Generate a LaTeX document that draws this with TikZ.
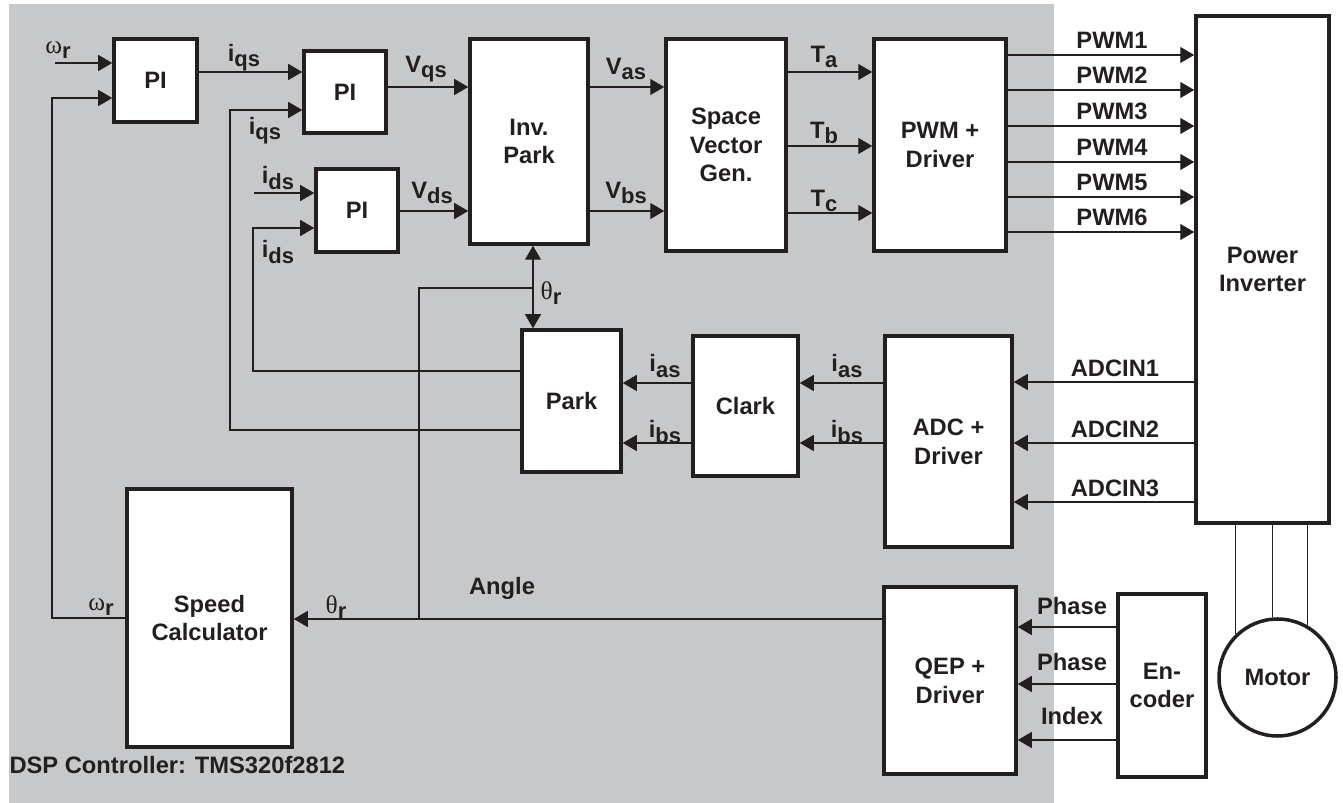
\documentclass[tikz,border=0pt]{standalone}
\usepackage{fontspec}
\setmainfont{Liberation Sans}
\newfontfamily\grk{Liberation Serif}
\usepackage{tikz}
\usetikzlibrary{arrows.meta}
\definecolor{dspbg}{RGB}{199,200,202}
\definecolor{ink}{RGB}{35,31,32}
\newcommand{\lowsub}[1]{\raisebox{-0.22em}{\fontsize{12.5}{14}\selectfont #1}}
\newcommand{\gk}[1]{{\grk\mdseries\fontsize{14.5}{16}\selectfont #1}}

\begin{document}
\begin{tikzpicture}[x=0.02cm, y=-0.02cm, ink, line width=0.6pt,
  font=\fontsize{13.5}{16.4}\selectfont\bfseries,
  >={Triangle[length=0.28cm,width=0.32cm]},
  blk/.style={draw=ink, fill=white, line width=2pt, align=center, inner sep=0pt},
  wh/.style 2 args={minimum width=#1*0.02cm, minimum height=#2*0.02cm},
  lbl/.style={inner sep=0pt}]
  \useasboundingbox (0,0) rectangle (1343,803);
  \fill[dspbg] (9,4) rectangle (1054,803);
  % blocks
  \node[blk, wh={83}{83}] (pi1) at (155.5,80.5) {PI};
  \node[blk, wh={82}{82}] (pi2) at (345,92) {PI};
  \node[blk, wh={82}{83}] (pi3) at (357,210.5) {PI};
  \node[blk, wh={118}{205}] (ipark) at (529,141.5) {Inv.\\Park};
  \node[blk, wh={120}{212}] (svgen) at (726,145) {Space\\Vector\\Gen.};
  \node[blk, wh={132}{212}] (pwm) at (940,145) {PWM +\\Driver};
  \node[blk, wh={133}{507}] (inv) at (1262.5,269.5) {Power\\Inverter};
  \node[blk, wh={99}{142}] (park) at (571.5,401) {Park};
  \node[blk, wh={105}{140}] (clark) at (745.5,406) {Clark};
  \node[blk, wh={127}{211}] (adc) at (948.5,441.5) {ADC +\\Driver};
  \node[blk, wh={165}{258}] (spd) at (209.5,618) {Speed\\Calculator};
  \node[blk, wh={132}{187}] (qep) at (950,680.5) {QEP +\\Driver};
  \node[blk, wh={88}{183}] (enc) at (1162,685.5) {En-\\coder};
  \node[blk, circle, minimum size=117*0.02cm] (motor) at (1277.5,677.5) {Motor};
  % forward path
  \coordinate (wref) at (55,63);
  \coordinate (idref) at (254,193);
  \draw[->] (wref) -- (pi1.west |- wref);
  \draw[->] (idref) -- (pi3.west |- idref);
  \draw[->] (pi1.east |- 0,72) -- (pi2.west |- 0,72);
  \draw[->] (pi2.east |- 0,87) -- (ipark.west |- 0,87);
  \draw[->] (pi3.east |- 0,211) -- (ipark.west |- 0,211);
  \foreach \y in {87,211} \draw[->] (ipark.east |- 0,\y) -- (svgen.west |- 0,\y);
  \foreach \y in {72,146,213} \draw[->] (svgen.east |- 0,\y) -- (pwm.west |- 0,\y);
  \foreach \y [count=\n] in {55,90,126,162,197,232} {
    \draw[->] (pwm.east |- 0,\y) -- (inv.west |- 0,\y);
    \node[lbl] (pwmlbl\n) at (1112,\y-14.5) {PWM\n};
  }
  % measurement path
  \foreach \y [count=\n] in {382,443,502} {
    \draw[->] (inv.west |- 0,\y) -- (adc.east |- 0,\y);
    \node[lbl] (adclbl\n) at (1115,\y-13.5) {ADCIN\n};
  }
  \foreach \y in {383,443} {
    \draw[->] (adc.west |- 0,\y) -- (clark.east |- 0,\y);
    \draw[->] (clark.west |- 0,\y) -- (park.east |- 0,\y);
  }
  \foreach \y in {627,684,740} \draw[->] (enc.west |- 0,\y) -- (qep.east |- 0,\y);
  \foreach \a in {134,95,60} \draw (motor.\a) -- (motor.\a |- inv.south);
  % feedback
  \draw[->] (park.west |- 0,430) -| (230,110) -- (pi2.west |- 0,110);
  \draw[->] (park.west |- 0,371) -| (253,228) -- (pi3.west |- 0,228);
  \draw[->] (spd.west) -| (52,98) -- (pi1.west |- 0,98);
  \draw[->] (qep.west |- 0,619) -- (spd.east |- 0,619);
  \draw (419,619) |- (533,288);
  \draw[<->] (ipark.south -| 533,0) -- (park.north -| 533,0);
  % labels
  \node[lbl] (wr1) at (58,50) {\gk{ω}\lowsub{r}};
  \node[lbl] (iqs1) at (244,58) {i\lowsub{qs}};
  \node[lbl] (iqs2) at (265,131) {i\lowsub{qs}};
  \node[lbl] (ids1) at (278,178) {i\lowsub{ds}};
  \node[lbl] (ids2) at (278,252) {i\lowsub{ds}};
  \node[lbl] (vqs) at (426,69) {V\lowsub{qs}};
  \node[lbl] (vds) at (432,193) {V\lowsub{ds}};
  \node[lbl] (vas) at (626,69) {V\lowsub{as}};
  \node[lbl] (vbs) at (626,193) {V\lowsub{bs}};
  \node[lbl] (ta) at (824,57) {T\lowsub{a}};
  \node[lbl] (tb) at (824,133) {T\lowsub{b}};
  \node[lbl] (tc) at (824,201) {T\lowsub{c}};
  \node[lbl] (th1) at (551,293) {\gk{θ}\lowsub{r}};
  \node[lbl] (ias1) at (665,366) {i\lowsub{as}};
  \node[lbl] (ibs1) at (665,432) {i\lowsub{bs}};
  \node[lbl] (ias2) at (847,366) {i\lowsub{as}};
  \node[lbl] (ibs2) at (847,432) {i\lowsub{bs}};
  \node[lbl] (wr2) at (101,607) {\gk{ω}\lowsub{r}};
  \node[lbl] (th2) at (336,607) {\gk{θ}\lowsub{r}};
  \node[lbl] (angle) at (502,588) {Angle};
  \node[lbl] (ph1) at (1072,606) {Phase};
  \node[lbl] (ph2) at (1072,662) {Phase};
  \node[lbl] (idx) at (1072,716) {Index};
  \node[lbl, anchor=west] (dsp) at (9,765) {DSP Controller: TMS320f2812};
\end{tikzpicture}
\end{document}
